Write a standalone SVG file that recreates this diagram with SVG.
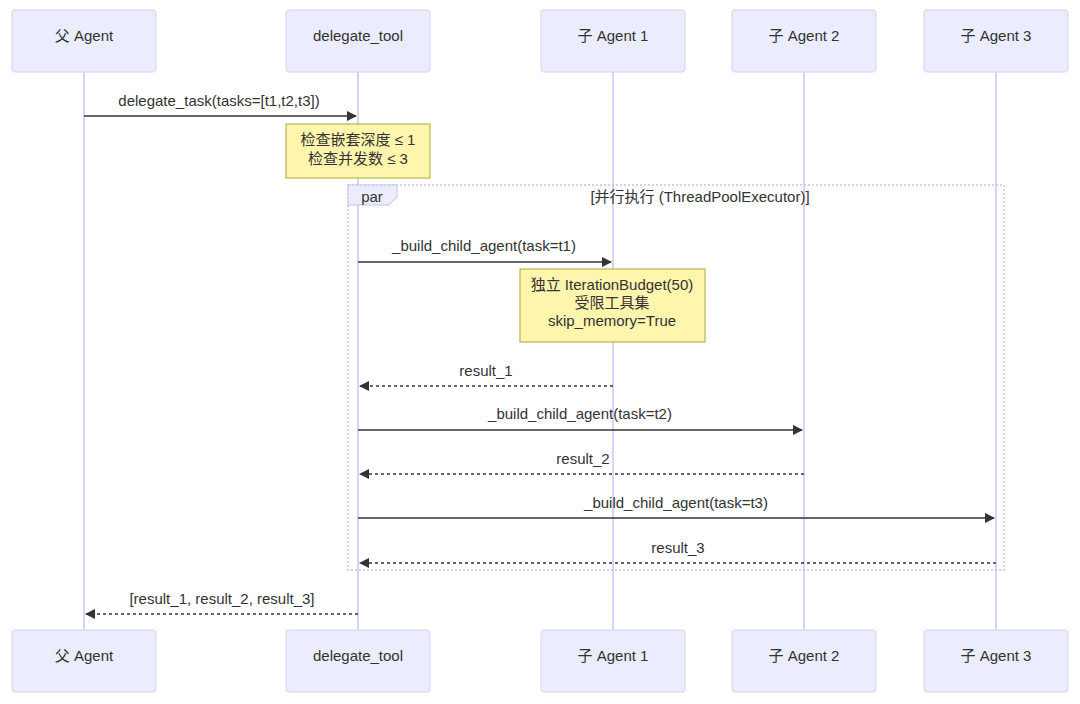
<svg xmlns="http://www.w3.org/2000/svg" width="1080" height="704" viewBox="0 0 1080 704">
<style>
text{font-family:"Liberation Sans",Arial,"Noto Sans CJK SC",sans-serif;font-size:15px;fill:#333;text-anchor:middle}
.actor{fill:#ECECFF;stroke:#d6d0f5;stroke-width:1}
.life{stroke:#d9d2f5;stroke-width:2}
.note{fill:#FFF5AD;stroke:#AAAA33;stroke-width:1}
.msg{stroke:#333;stroke-width:1.3;fill:none}
.dash{stroke-dasharray:3,3}
</style>
<defs>
<marker id="ah" viewBox="0 0 10 10" refX="9" refY="5" markerWidth="8" markerHeight="8" orient="auto"><path d="M0,0L10,5L0,10z" fill="#333"/></marker>
</defs>
<g id="lifelines">
<line class="life" x1="84" y1="72" x2="84" y2="630"/>
<line class="life" x1="358" y1="72" x2="358" y2="630"/>
<line class="life" x1="613" y1="72" x2="613" y2="630"/>
<line class="life" x1="804" y1="72" x2="804" y2="630"/>
<line class="life" x1="996" y1="72" x2="996" y2="630"/>
</g>
<g id="actors-top">
<g id="a1"><rect class="actor" x="12" y="10" width="144" height="62" rx="3"/><text x="84" y="41">父 Agent</text></g>
<g id="a2"><rect class="actor" x="286" y="10" width="144" height="62" rx="3"/><text x="358" y="41">delegate_tool</text></g>
<g id="a3"><rect class="actor" x="541" y="10" width="144" height="62" rx="3"/><text x="613" y="41">子 Agent 1</text></g>
<g id="a4"><rect class="actor" x="732" y="10" width="144" height="62" rx="3"/><text x="804" y="41">子 Agent 2</text></g>
<g id="a5"><rect class="actor" x="924" y="10" width="144" height="62" rx="3"/><text x="996" y="41">子 Agent 3</text></g>
</g>
<g id="actors-bottom">
<g id="b1"><rect class="actor" x="12" y="630" width="144" height="62" rx="3"/><text x="84" y="661">父 Agent</text></g>
<g id="b2"><rect class="actor" x="286" y="630" width="144" height="62" rx="3"/><text x="358" y="661">delegate_tool</text></g>
<g id="b3"><rect class="actor" x="541" y="630" width="144" height="62" rx="3"/><text x="613" y="661">子 Agent 1</text></g>
<g id="b4"><rect class="actor" x="732" y="630" width="144" height="62" rx="3"/><text x="804" y="661">子 Agent 2</text></g>
<g id="b5"><rect class="actor" x="924" y="630" width="144" height="62" rx="3"/><text x="996" y="661">子 Agent 3</text></g>
</g>
<g id="par">
<rect x="348" y="185" width="656" height="385" fill="none" stroke="#c8c0ee" stroke-width="1.5" stroke-dasharray="2,2"/>
<path d="M348,185H397V197L389,205H348z" fill="#ECECFF" stroke="#c8c0ee"/>
<text x="372" y="202">par</text>
<text x="700" y="202">[并行执行 (ThreadPoolExecutor)]</text>
</g>
<g id="note1"><rect class="note" x="286" y="124" width="144" height="54"/><text x="358" y="145">检查嵌套深度 ≤ 1</text><text x="358" y="164">检查并发数 ≤ 3</text></g>
<g id="note2"><rect class="note" x="520" y="269" width="185" height="73"/><text x="612" y="290">独立 IterationBudget(50)</text><text x="612" y="308">受限工具集</text><text x="612" y="326">skip_memory=True</text></g>
<g id="connectors">
<line class="msg" x1="84" y1="116" x2="356" y2="116" marker-end="url(#ah)"/><text x="219" y="106">delegate_task(tasks=[t1,t2,t3])</text>
<line class="msg" x1="358" y1="262" x2="611" y2="262" marker-end="url(#ah)"/><text x="484" y="251">_build_child_agent(task=t1)</text>
<line class="msg dash" x1="613" y1="386" x2="360" y2="386" marker-end="url(#ah)"/><text x="486" y="376">result_1</text>
<line class="msg" x1="358" y1="430" x2="802" y2="430" marker-end="url(#ah)"/><text x="580" y="419">_build_child_agent(task=t2)</text>
<line class="msg dash" x1="804" y1="474" x2="360" y2="474" marker-end="url(#ah)"/><text x="583" y="464">result_2</text>
<line class="msg" x1="358" y1="518" x2="994" y2="518" marker-end="url(#ah)"/><text x="676" y="508">_build_child_agent(task=t3)</text>
<line class="msg dash" x1="996" y1="563" x2="360" y2="563" marker-end="url(#ah)"/><text x="678" y="553">result_3</text>
<line class="msg dash" x1="358" y1="614" x2="86" y2="614" marker-end="url(#ah)"/><text x="222" y="604">[result_1, result_2, result_3]</text>
</g>
</svg>
